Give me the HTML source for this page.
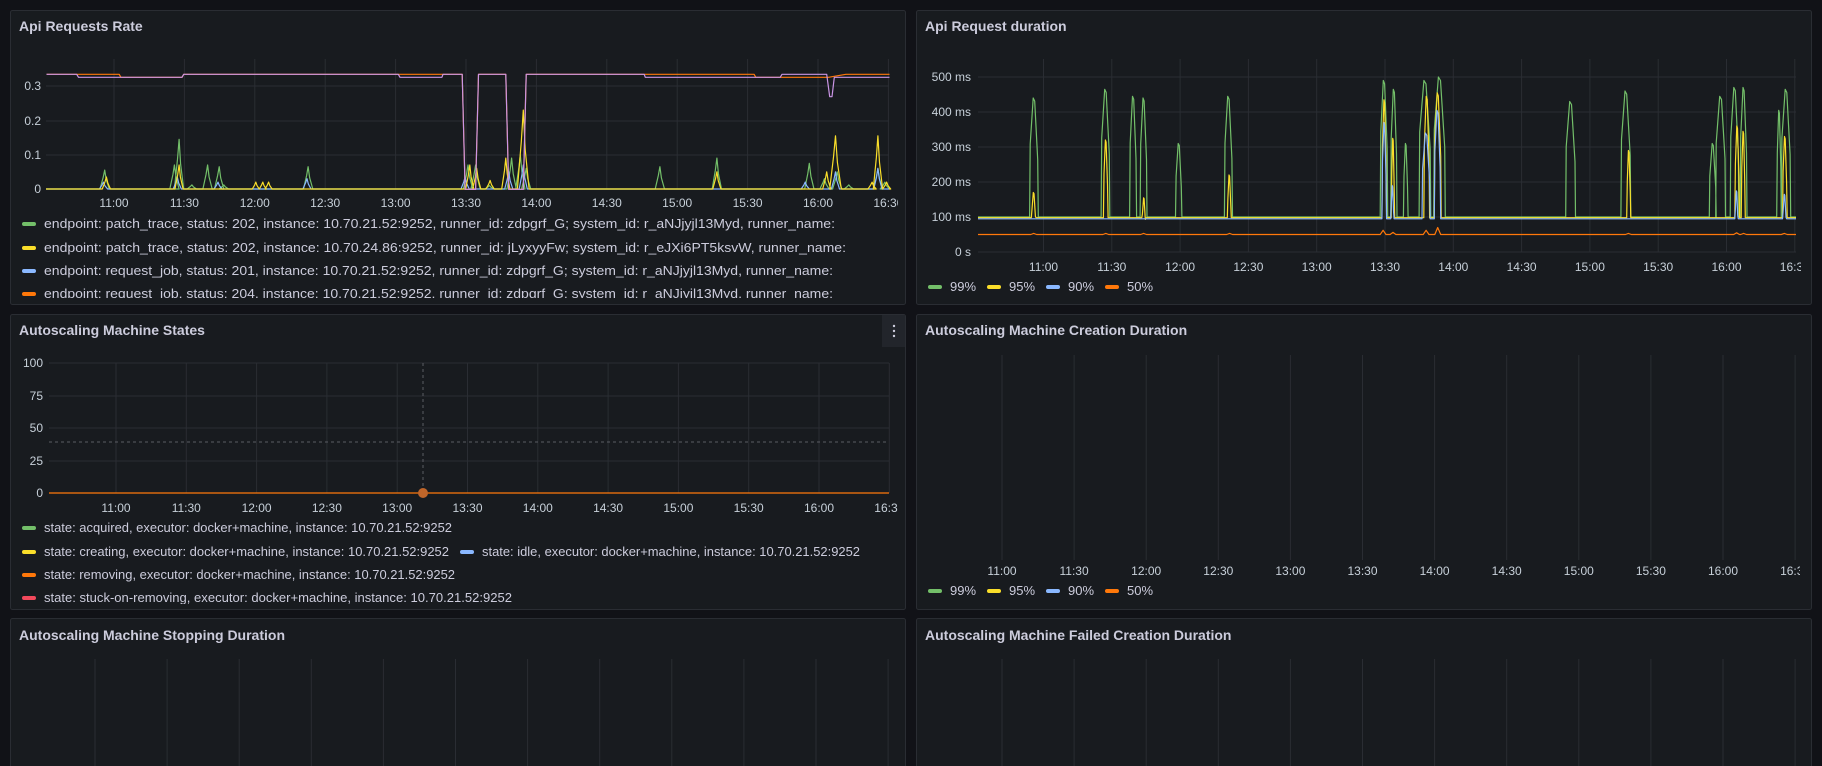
<!DOCTYPE html>
<html><head><meta charset="utf-8"><style>
html,body{margin:0;padding:0;background:#111217;}
svg{display:block;font-family:"Liberation Sans",sans-serif;}
.t{fill:#ccccdc;font-size:14px;font-weight:bold;}
.k{fill:#c7d0d9;font-size:12px;}
.l{fill:#ccccdc;font-size:13px;}
</style></head><body>
<svg id="s" width="1822" height="766" viewBox="0 0 1822 766">
<defs>
<clipPath id="c1"><rect x="10" y="10" width="895" height="288"/></clipPath>
<clipPath id="c1x"><rect x="10" y="10" width="888" height="288"/></clipPath>
<clipPath id="c2"><rect x="916" y="10" width="885" height="294"/></clipPath>
<clipPath id="c3"><rect x="10" y="314" width="895" height="290"/></clipPath>
<clipPath id="c3x"><rect x="10" y="314" width="888" height="290"/></clipPath>
<clipPath id="c4"><rect x="916" y="314" width="884" height="295"/></clipPath>
</defs>
<rect width="1822" height="766" fill="#111217"/>
<rect x="10.5" y="10.5" width="895" height="294" rx="2" fill="#181b1f" stroke="#2a2d33"/>
<rect x="916.5" y="10.5" width="895" height="294" rx="2" fill="#181b1f" stroke="#2a2d33"/>
<rect x="10.5" y="314.5" width="895" height="295" rx="2" fill="#181b1f" stroke="#2a2d33"/>
<rect x="916.5" y="314.5" width="895" height="295" rx="2" fill="#181b1f" stroke="#2a2d33"/>
<rect x="10.5" y="618.5" width="895" height="160" rx="2" fill="#181b1f" stroke="#2a2d33"/>
<rect x="916.5" y="618.5" width="895" height="160" rx="2" fill="#181b1f" stroke="#2a2d33"/>

<text class="t" x="19" y="31">Api Requests Rate</text>
<text class="t" x="925" y="31">Api Request duration</text>
<text class="t" x="19" y="335">Autoscaling Machine States</text>
<text class="t" x="925" y="335">Autoscaling Machine Creation Duration</text>
<text class="t" x="19" y="640">Autoscaling Machine Stopping Duration</text>
<text class="t" x="925" y="640">Autoscaling Machine Failed Creation Duration</text>

<g id="grid"></g>

<g class="k" text-anchor="end">
<text x="41" y="90">0.3</text><text x="41" y="125">0.2</text><text x="41" y="159">0.1</text><text x="41" y="193">0</text>
</g>
<g class="k" text-anchor="middle" clip-path="url(#c1x)">
<text x="114" y="207">11:00</text><text x="184.4" y="207">11:30</text><text x="254.8" y="207">12:00</text><text x="325.2" y="207">12:30</text><text x="395.6" y="207">13:00</text><text x="466" y="207">13:30</text><text x="536.4" y="207">14:00</text><text x="606.8" y="207">14:30</text><text x="677.2" y="207">15:00</text><text x="747.6" y="207">15:30</text><text x="818" y="207">16:00</text><text x="888.4" y="207">16:30</text>
</g>
<g clip-path="url(#c1)" class="l">
<rect x="22" y="222" width="14" height="4" rx="2" fill="#73bf69"/><text x="44" y="228" textLength="791" lengthAdjust="spacingAndGlyphs">endpoint: patch_trace, status: 202, instance: 10.70.21.52:9252, runner_id: zdpgrf_G; system_id: r_aNJjyjl13Myd, runner_name:</text>
<rect x="22" y="246" width="14" height="4" rx="2" fill="#fade2a"/><text x="44" y="252" textLength="802" lengthAdjust="spacingAndGlyphs">endpoint: patch_trace, status: 202, instance: 10.70.24.86:9252, runner_id: jLyxyyFw; system_id: r_eJXi6PT5ksvW, runner_name:</text>
<rect x="22" y="269" width="14" height="4" rx="2" fill="#8ab8ff"/><text x="44" y="275" textLength="789" lengthAdjust="spacingAndGlyphs">endpoint: request_job, status: 201, instance: 10.70.21.52:9252, runner_id: zdpgrf_G; system_id: r_aNJjyjl13Myd, runner_name:</text>
<rect x="22" y="292" width="14" height="4" rx="2" fill="#ff780a"/><text x="44" y="298" textLength="789" lengthAdjust="spacingAndGlyphs">endpoint: request_job, status: 204, instance: 10.70.21.52:9252, runner_id: zdpgrf_G; system_id: r_aNJjyjl13Myd, runner_name:</text>
</g>

<g class="k" text-anchor="end">
<text x="971" y="81">500 ms</text><text x="971" y="116">400 ms</text><text x="971" y="151">300 ms</text><text x="971" y="186">200 ms</text><text x="971" y="221">100 ms</text><text x="971" y="256">0 s</text>
</g>
<g class="k" text-anchor="middle" clip-path="url(#c2)">
<text x="1043.5" y="271">11:00</text><text x="1111.8" y="271">11:30</text><text x="1180.1" y="271">12:00</text><text x="1248.4" y="271">12:30</text><text x="1316.7" y="271">13:00</text><text x="1385" y="271">13:30</text><text x="1453.3" y="271">14:00</text><text x="1521.6" y="271">14:30</text><text x="1589.9" y="271">15:00</text><text x="1658.2" y="271">15:30</text><text x="1726.5" y="271">16:00</text><text x="1794.8" y="271">16:30</text>
</g>
<g class="l">
<rect x="928" y="285" width="14" height="4" rx="2" fill="#73bf69"/><text x="950" y="291">99%</text>
<rect x="987" y="285" width="14" height="4" rx="2" fill="#fade2a"/><text x="1009" y="291">95%</text>
<rect x="1046" y="285" width="14" height="4" rx="2" fill="#8ab8ff"/><text x="1068" y="291">90%</text>
<rect x="1105" y="285" width="14" height="4" rx="2" fill="#ff780a"/><text x="1127" y="291">50%</text>
</g>

<rect x="882" y="315" width="23" height="32" fill="#22252b"/>
<g fill="#ccccdc"><circle cx="894" cy="326" r="1.2"/><circle cx="894" cy="331" r="1.2"/><circle cx="894" cy="336" r="1.2"/></g>
<g class="k" text-anchor="end">
<text x="43" y="367">100</text><text x="43" y="400">75</text><text x="43" y="432">50</text><text x="43" y="465">25</text><text x="43" y="497">0</text>
</g>
<g class="k" text-anchor="middle" clip-path="url(#c3x)">
<text x="116" y="512">11:00</text><text x="186.3" y="512">11:30</text><text x="256.6" y="512">12:00</text><text x="326.9" y="512">12:30</text><text x="397.2" y="512">13:00</text><text x="467.5" y="512">13:30</text><text x="537.8" y="512">14:00</text><text x="608.1" y="512">14:30</text><text x="678.4" y="512">15:00</text><text x="748.7" y="512">15:30</text><text x="819" y="512">16:00</text><text x="889.3" y="512">16:30</text>
</g>
<line x1="49" y1="442" x2="889" y2="442" stroke="#5a5d63" stroke-dasharray="3,3"/>
<line x1="423" y1="363" x2="423" y2="493" stroke="#5a5d63" stroke-dasharray="3,3"/>
<line x1="49" y1="493" x2="889" y2="493" stroke="#ff780a" stroke-width="1.3"/>
<circle cx="423" cy="493" r="5" fill="#c0662a"/>
<g clip-path="url(#c3)" class="l">
<rect x="22" y="526" width="14" height="4" rx="2" fill="#73bf69"/><text x="44" y="532" textLength="408" lengthAdjust="spacingAndGlyphs">state: acquired, executor: docker+machine, instance: 10.70.21.52:9252</text>
<rect x="22" y="550" width="14" height="4" rx="2" fill="#fade2a"/><text x="44" y="556" textLength="405" lengthAdjust="spacingAndGlyphs">state: creating, executor: docker+machine, instance: 10.70.21.52:9252</text>
<rect x="460" y="550" width="14" height="4" rx="2" fill="#8ab8ff"/><text x="482" y="556" textLength="378" lengthAdjust="spacingAndGlyphs">state: idle, executor: docker+machine, instance: 10.70.21.52:9252</text>
<rect x="22" y="573" width="14" height="4" rx="2" fill="#ff780a"/><text x="44" y="579" textLength="411" lengthAdjust="spacingAndGlyphs">state: removing, executor: docker+machine, instance: 10.70.21.52:9252</text>
<rect x="22" y="596" width="14" height="4" rx="2" fill="#f2495c"/><text x="44" y="602" textLength="468" lengthAdjust="spacingAndGlyphs">state: stuck-on-removing, executor: docker+machine, instance: 10.70.21.52:9252</text>
</g>

<g class="k" text-anchor="middle" clip-path="url(#c4)">
<text x="1002" y="575">11:00</text><text x="1074.1" y="575">11:30</text><text x="1146.2" y="575">12:00</text><text x="1218.3" y="575">12:30</text><text x="1290.4" y="575">13:00</text><text x="1362.5" y="575">13:30</text><text x="1434.6" y="575">14:00</text><text x="1506.7" y="575">14:30</text><text x="1578.8" y="575">15:00</text><text x="1650.9" y="575">15:30</text><text x="1723" y="575">16:00</text><text x="1795.1" y="575">16:30</text>
</g>
<g class="l">
<rect x="928" y="589" width="14" height="4" rx="2" fill="#73bf69"/><text x="950" y="595">99%</text>
<rect x="987" y="589" width="14" height="4" rx="2" fill="#fade2a"/><text x="1009" y="595">95%</text>
<rect x="1046" y="589" width="14" height="4" rx="2" fill="#8ab8ff"/><text x="1068" y="595">90%</text>
<rect x="1105" y="589" width="14" height="4" rx="2" fill="#ff780a"/><text x="1127" y="595">50%</text>
</g>
<g id="series"></g>
</svg>
<script>
var NS="http://www.w3.org/2000/svg";
var G=document.getElementById("grid"),S=document.getElementById("series");
function ln(g,x1,y1,x2,y2,c,w){var e=document.createElementNS(NS,"line");e.setAttribute("x1",x1);e.setAttribute("y1",y1);e.setAttribute("x2",x2);e.setAttribute("y2",y2);e.setAttribute("stroke",c||"#2a2d33");e.setAttribute("stroke-width",w||1);g.appendChild(e);}
function pl(pts,c,w){var e=document.createElementNS(NS,"polyline");e.setAttribute("points",pts.map(function(p){return p[0].toFixed(1)+","+p[1].toFixed(1)}).join(" "));e.setAttribute("fill","none");e.setAttribute("stroke",c);e.setAttribute("stroke-width",w||1.2);e.setAttribute("stroke-linejoin","round");S.appendChild(e);}
var i;
for(i=0;i<12;i++){var x=114+i*70.4;ln(G,x,59,x,189);}
[86,121,155,189].forEach(function(y){ln(G,46,y,889,y);});
for(i=0;i<12;i++){var x=1043.5+i*68.3;ln(G,x,59,x,252);}
[77,112,147,182,217,252].forEach(function(y){ln(G,978,y,1796,y);});
for(i=0;i<12;i++){var x=116+i*70.3;ln(G,x,363,x,493);}
[363,396,428,461,493].forEach(function(y){ln(G,49,y,889,y);});
for(i=0;i<12;i++){var x=1002+i*72.1;ln(G,x,355,x,560);}
for(i=0;i<12;i++){var x=95+i*72.1;ln(G,x,659,x,766);}
for(i=0;i<12;i++){var x=1002+i*72.1;ln(G,x,659,x,766);}

function X1(z){return z/1.72;}
function Y1(v){return 189-v*343;}
function spikes(list,base,w){
  list.sort(function(a,b){return a[0]-b[0]});
  var pts=[[46,Y1(base)]];
  list.forEach(function(s){var ww=s[2]||w;pts.push([X1(s[0]-ww),Y1(base)]);pts.push([X1(s[0]-ww/3),Y1(s[1]*0.6)]);pts.push([X1(s[0]),Y1(s[1])]);pts.push([X1(s[0]+ww/3),Y1(s[1]*0.5)]);pts.push([X1(s[0]+ww),Y1(base)]);});
  pts.push([889,Y1(base)]);return pts;
}
pl(spikes([[180,0.055],[308,0.145],[300,0.07],[330,0.012],[357,0.07],[377,0.065],[385,0.012],[530,0.065],[805,0.07],[818,0.07],[842,0.01],[880,0.09],[895,0.1],[905,0.06],[1135,0.065],[1233,0.09],[1392,0.075],[1418,0.03],[1440,0.05],[1460,0.012],[1510,0.06],[1522,0.02]],0,8),"#73bf69");
pl(spikes([[178,0.02],[305,0.035],[375,0.02],[528,0.03],[800,0.035],[875,0.05],[900,0.07],[1385,0.02],[1437,0.05],[1510,0.06]],0,7),"#8ab8ff");
pl(spikes([[183,0.035],[308,0.07],[440,0.02,6],[452,0.02,6],[462,0.02,6],[808,0.07],[820,0.06],[843,0.025],[870,0.09],[900,0.23,10],[1233,0.05],[1422,0.05],[1437,0.155,10],[1500,0.02],[1510,0.155,8],[1525,0.02]],0,7),"#fade2a");
function steps(segs){var p=[];segs.forEach(function(s){p.push([X1(s[0]),s[1]/3]);p.push([X1(s[2]),s[1]/3]);});return p;}
pl(steps([[80,223,135],[135,223,205],[208,232,313],[316,223,685],[688,223,760],[762,223,795],[800,568,818],[823,223,870],[875,568,900],[905,223,1108],[1110,223,1297],[1300,232,1342],[1345,232,1425],[1455,223,1530]]),"#ff780a",1.2);
pl(steps([[80,223,132],[135,232,313],[316,223,685],[688,232,760],[762,223,795],[800,568,818],[823,223,870],[875,568,900],[905,223,1108],[1110,232,1297],[1300,232,1342],[1345,223,1422],[1427,290,1431],[1435,232,1530]]),"#ca95e5",1.2);

function X2(z){return 911+z/1.72;}
function Y2(ms){return 252-ms*0.35;}
function plat(list,base){
  list.sort(function(a,b){return a[0]-b[0]});
  var pts=[[978,Y2(base)]];
  list.forEach(function(s){var a=s[0],b=s[1],p=s[2];pts.push([X2(a-1),Y2(base)]);pts.push([X2(a),Y2(p*0.7)]);pts.push([X2(a+(b-a)*0.4),Y2(p)]);pts.push([X2(a+(b-a)*0.6),Y2(p*0.98)]);pts.push([X2(b),Y2(p*0.6)]);pts.push([X2(b+1),Y2(base)]);});
  pts.push([1796,Y2(base)]);return pts;
}
function bumps(list,base){
  var pts=[[978,Y2(base)]];
  list.forEach(function(s){pts.push([X2(s[0]-5),Y2(base)]);pts.push([X2(s[0]),Y2(s[1])]);pts.push([X2(s[0]+5),Y2(base)]);});
  pts.push([1796,Y2(base)]);return pts;
}
pl(plat([[205,218,440],[328,341,465],[377,387,445],[395,405,440],[456,465,310],[540,552,445],[808,819,490],[826,835,465],[848,854,310],[875,893,490],[900,918,500],[1127,1142,430],[1222,1237,460],[1374,1384,310],[1385,1400,445],[1410,1423,470],[1427,1437,470],[1490,1496,405],[1498,1512,465]],100),"#73bf69");
pl(plat([[208,214,170],[332,338,320],[398,403,155],[545,550,220],[811,817,435],[827,831,325],[883,891,445],[901,911,455],[1232,1237,290],[1418,1424,360],[1429,1434,345],[1500,1506,330]],98),"#fade2a");
pl(plat([[811,817,370],[826,830,190],[880,892,340],[901,910,405],[1418,1422,175],[1500,1505,165]],95),"#8ab8ff");
pl(bumps([[211,53],[335,53],[400,53],[548,53],[812,62],[829,56],[886,62],[906,70],[1234,53],[1420,55],[1432,53],[1502,53]],50),"#ff780a");
</script>
</body></html>
